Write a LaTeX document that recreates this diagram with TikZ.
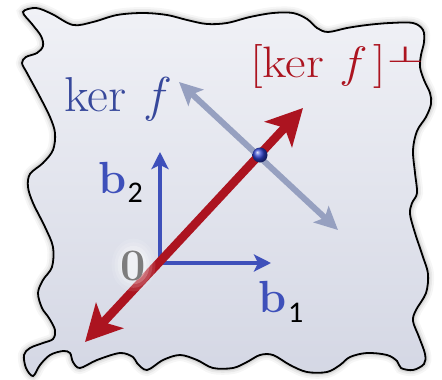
\documentclass[tikz,border=0pt]{standalone}
\usepackage{fontspec}
\newfontfamily\subfont{Carlito}
\newfontfamily\symfont{DejaVu Sans}
\usetikzlibrary{arrows.meta,calc}
\definecolor{bblue}{RGB}{62,80,186}
\definecolor{kblue}{RGB}{55,72,155}
\definecolor{kred}{RGB}{172,20,32}
\definecolor{lgray}{RGB}{150,160,192}
\definecolor{zgray}{RGB}{125,125,125}
\definecolor{filltop}{RGB}{240,241,246}
\definecolor{fillmid}{RGB}{234,235,242}
\definecolor{fillbot}{RGB}{212,215,228}
\begin{document}
\begin{tikzpicture}[x=1pt,y=-1pt,
  basisarrow/.style={draw=bblue, line width=4.5pt, -{Stealth[length=17pt,width=17pt,inset=4pt]}},
  redarrow/.style={draw=kred, line width=8.5pt, {Stealth[length=36pt,width=37pt,inset=9pt]}-{Stealth[length=36pt,width=37pt,inset=9pt]}},
  grayarrow/.style={draw=lgray, line width=6pt, {Stealth[length=23pt,width=22pt,inset=5pt]}-{Stealth[length=23pt,width=22pt,inset=5pt]}},
  lbl/.style={inner sep=0pt, anchor=base west},
  bfont/.style={font=\fontsize{45}{45}\selectfont\bfseries},
  sfont/.style={font=\fontsize{30}{30}\selectfont\subfont},
]
\useasboundingbox (0,0) rectangle (442,380);
\path[preaction={draw=black, line width=12pt, draw opacity=0.035},
      preaction={draw=black, line width=8pt, draw opacity=0.05},
      preaction={draw=black, line width=4.5pt, draw opacity=0.08},
      top color=filltop, middle color=fillmid, bottom color=fillbot,
      draw=black, line width=1.8pt]
 plot[smooth cycle, tension=0.55] coordinates {
 (23,12) (36,8) (52,14) (73,25) (93,22) (117,15) (143,13) (167,15) (187,20) (207,24) (227,23) (250,17) (273,13) (293,13) (307,19) (317,28) (328,32) (347,28) (367,25) (390,23) (413,23) (423,30)
 (424,42) (421,55) (420,67) (424,80) (430,93) (431,104) (426,117) (417,131) (413,150) (415,173) (417,193) (412,203) (410,214) (415,233) (423,257) (428,274) (426,293) (416,310) (413,321) (419,337) (425,354) (424,364)
 (413,370) (401,368) (397,361) (387,355) (367,353) (350,357) (340,365) (327,372) (307,372) (290,365) (273,355) (260,355) (247,362) (233,368) (213,368) (197,360) (180,355) (163,360) (147,370) (137,363) (133,357) (120,353) (97,360) (80,368) (73,362) (70,353) (63,351) (50,355) (40,365) (33,376) (26,368) (24,355) (30,348) (43,343) (53,339) (55,330) (49,318)
 (42,308) (38,293) (43,280) (52,267) (53,247) (45,227) (33,203) (28,187) (30,174) (43,163) (53,150) (55,133) (50,117) (40,97) (27,73) (22,63) (26,57) (37,53) (43,46) (41,36) (32,24)};

% coordinates
\coordinate (O) at (160,263);
\coordinate (Ov) at (160,265.25);
\coordinate (Oh) at (157.75,263);
\coordinate (b2tip) at (160,152);
\coordinate (b1tip) at (271,263);
\coordinate (rl) at (85,342);
\coordinate (ru) at (303,108);
\coordinate (gu) at (179,82);
\coordinate (gl) at (338,230);

% kernel line
\draw[grayarrow] (gl) -- (gu);
% basis
\draw[basisarrow] (Ov) -- (b2tip);
\draw[basisarrow] (Oh) -- (b1tip);
% orthogonal complement line
\draw[redarrow] (rl) -- (ru);
% point
\shade[ball color={rgb,255:red,45;green,65;blue,205}] (260,155) circle (7.5pt);
\node[inner sep=0pt] (pt) at (260,155) {};

% labels
\node[lbl, text=kblue, font=\fontsize{49}{49}\selectfont] (kerf) at (64,111) {\scalebox{1.04}[1]{ker\hspace{0.42em}\textit{f}}};
\node[lbl, text=kred, font=\fontsize{44}{44}\selectfont] (kerp) at (250,77) {\scalebox{1.14}[1]{[ker\hspace{0.4em}\textit{f}\hspace{0.14em}]}};
\node[lbl, text=kred, font=\fontsize{44}{44}\selectfont\symfont] (perp) at (386,62) {\scalebox{1}[0.5]{⊥}};

% glow behind the zero
\foreach \r/\o in {22/0.10, 19/0.14, 16/0.2, 13/0.3}
  \fill[white, opacity=\o] (133.5,265) ellipse ({\r pt} and {1.2*\r pt});
\node[lbl, bfont, text=zgray] (zero) at (120,280) {0};

\node[lbl, bfont, text=bblue] (b2) at (98,193) {b};
\node[lbl, sfont, text=black] (s2) at (127.5,202) {2};

\node[lbl, bfont, text=bblue] (b1) at (258,312) {b};
\node[lbl, sfont, text=black] (s1) at (288,322) {1};
\end{tikzpicture}
\end{document}
